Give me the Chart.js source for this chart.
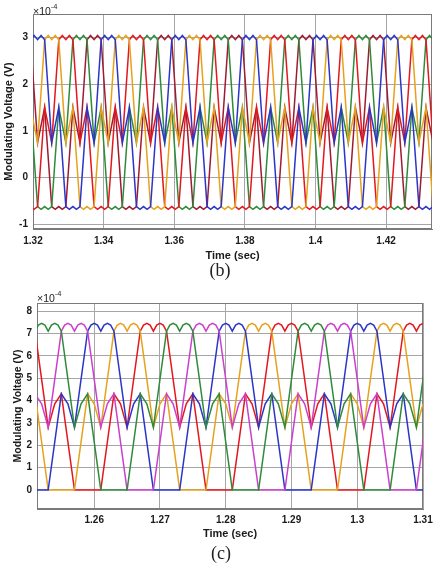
<!DOCTYPE html>
<html>
<head>
<meta charset="utf-8">
<script src="https://cdn.jsdelivr.net/npm/chart.js@4.4.1/dist/chart.umd.min.js"></script>
<style>
  body { margin: 0; background: #fff; width: 439px; height: 563px; position: relative; overflow: hidden; font-family: "Liberation Sans", Arial, sans-serif; }
  canvas { position: absolute; left: 0; }
  #chartB { top: 0; }
  #chartC { top: 282px; }
  .exp { position: absolute; font-size: 10.5px; color: #222; line-height: 12px; }
  .exp sup { font-size: 7.5px; position: relative; top: -1px; }
  .cap { position: absolute; width: 40px; text-align: center; font-family: "Liberation Serif", "Times New Roman", serif; font-size: 18px; color: #222; }
</style>
</head>
<body>
<canvas id="chartB" width="439" height="267"></canvas>
<canvas id="chartC" width="439" height="263"></canvas>
<div class="exp" style="left:33px;top:2px">×10<sup>-4</sup></div>
<div class="exp" style="left:37px;top:289px">×10<sup>-4</sup></div>
<div class="cap" style="left:200px;top:260px">(b)</div>
<div class="cap" style="left:201px;top:543px">(c)</div>
<script>
// ---- panel (b): modulating voltages, x10^-4 V ----
const bTicksX = [1.32, 1.34, 1.36, 1.38, 1.40, 1.42];
const bTickLabelsX = ["1.32", "1.34", "1.36", "1.38", "1.4", "1.42"];
const bTicksY = [-1, 0, 1, 2, 3];
const bTickLabelsY = ["-1", "0", "1", "2", "3"];

const bBlue = [
  [1.3093, -0.62], [1.3103, -0.68], [1.3113, -0.62], [1.3123, -0.68], [1.3133, -0.62], [1.3153, 1.5], [1.3173, 0.75],
  [1.3193, 2.95], [1.3203, 3.04], [1.3213, 2.95], [1.3223, 3.04], [1.3233, 2.95], [1.3253, 0.75], [1.3273, 1.5], [1.3293, -0.62], [1.3303, -0.68], [1.3313, -0.62], [1.3323, -0.68], [1.3333, -0.62], [1.3353, 1.5], [1.3373, 0.75],
  [1.3393, 2.95], [1.3403, 3.04], [1.3413, 2.95], [1.3423, 3.04], [1.3433, 2.95], [1.3453, 0.75], [1.3473, 1.5], [1.3493, -0.62], [1.3503, -0.68], [1.3513, -0.62], [1.3523, -0.68], [1.3533, -0.62], [1.3553, 1.5], [1.3573, 0.75],
  [1.3593, 2.95], [1.3603, 3.04], [1.3613, 2.95], [1.3623, 3.04], [1.3633, 2.95], [1.3653, 0.75], [1.3673, 1.5], [1.3693, -0.62], [1.3703, -0.68], [1.3713, -0.62], [1.3723, -0.68], [1.3733, -0.62], [1.3753, 1.5], [1.3773, 0.75],
  [1.3793, 2.95], [1.3803, 3.04], [1.3813, 2.95], [1.3823, 3.04], [1.3833, 2.95], [1.3853, 0.75], [1.3873, 1.5], [1.3893, -0.62], [1.3903, -0.68], [1.3913, -0.62], [1.3923, -0.68], [1.3933, -0.62], [1.3953, 1.5], [1.3973, 0.75],
  [1.3993, 2.95], [1.4003, 3.04], [1.4013, 2.95], [1.4023, 3.04], [1.4033, 2.95], [1.4053, 0.75], [1.4073, 1.5], [1.4093, -0.62], [1.4103, -0.68], [1.4113, -0.62], [1.4123, -0.68], [1.4133, -0.62], [1.4153, 1.5], [1.4173, 0.75],
  [1.4193, 2.95], [1.4203, 3.04], [1.4213, 2.95], [1.4223, 3.04], [1.4233, 2.95], [1.4253, 0.75], [1.4273, 1.5], [1.4293, -0.62], [1.4303, -0.68], [1.4313, -0.62], [1.4323, -0.68], [1.4333, -0.62], [1.4353, 1.5]
];
const bOrange = [
  [1.3133, -0.62], [1.3143, -0.68], [1.3153, -0.62], [1.3163, -0.68], [1.3173, -0.62], [1.3193, 1.5], [1.3213, 0.75],
  [1.3233, 2.95], [1.3243, 3.04], [1.3253, 2.95], [1.3263, 3.04], [1.3273, 2.95], [1.3293, 0.75], [1.3313, 1.5], [1.3333, -0.62], [1.3343, -0.68], [1.3353, -0.62], [1.3363, -0.68], [1.3373, -0.62], [1.3393, 1.5], [1.3413, 0.75],
  [1.3433, 2.95], [1.3443, 3.04], [1.3453, 2.95], [1.3463, 3.04], [1.3473, 2.95], [1.3493, 0.75], [1.3513, 1.5], [1.3533, -0.62], [1.3543, -0.68], [1.3553, -0.62], [1.3563, -0.68], [1.3573, -0.62], [1.3593, 1.5], [1.3613, 0.75],
  [1.3633, 2.95], [1.3643, 3.04], [1.3653, 2.95], [1.3663, 3.04], [1.3673, 2.95], [1.3693, 0.75], [1.3713, 1.5], [1.3733, -0.62], [1.3743, -0.68], [1.3753, -0.62], [1.3763, -0.68], [1.3773, -0.62], [1.3793, 1.5], [1.3813, 0.75],
  [1.3833, 2.95], [1.3843, 3.04], [1.3853, 2.95], [1.3863, 3.04], [1.3873, 2.95], [1.3893, 0.75], [1.3913, 1.5], [1.3933, -0.62], [1.3943, -0.68], [1.3953, -0.62], [1.3963, -0.68], [1.3973, -0.62], [1.3993, 1.5], [1.4013, 0.75],
  [1.4033, 2.95], [1.4043, 3.04], [1.4053, 2.95], [1.4063, 3.04], [1.4073, 2.95], [1.4093, 0.75], [1.4113, 1.5], [1.4133, -0.62], [1.4143, -0.68], [1.4153, -0.62], [1.4163, -0.68], [1.4173, -0.62], [1.4193, 1.5], [1.4213, 0.75],
  [1.4233, 2.95], [1.4243, 3.04], [1.4253, 2.95], [1.4263, 3.04], [1.4273, 2.95], [1.4293, 0.75], [1.4313, 1.5], [1.4333, -0.62], [1.4343, -0.68]
];
const bRed = [
  [1.3113, 2.95], [1.3133, 0.75], [1.3153, 1.5], [1.3173, -0.62], [1.3183, -0.68], [1.3193, -0.62], [1.3203, -0.68], [1.3213, -0.62], [1.3233, 1.5], [1.3253, 0.75],
  [1.3273, 2.95], [1.3283, 3.04], [1.3293, 2.95], [1.3303, 3.04], [1.3313, 2.95], [1.3333, 0.75], [1.3353, 1.5], [1.3373, -0.62], [1.3383, -0.68], [1.3393, -0.62], [1.3403, -0.68], [1.3413, -0.62], [1.3433, 1.5], [1.3453, 0.75],
  [1.3473, 2.95], [1.3483, 3.04], [1.3493, 2.95], [1.3503, 3.04], [1.3513, 2.95], [1.3533, 0.75], [1.3553, 1.5], [1.3573, -0.62], [1.3583, -0.68], [1.3593, -0.62], [1.3603, -0.68], [1.3613, -0.62], [1.3633, 1.5], [1.3653, 0.75],
  [1.3673, 2.95], [1.3683, 3.04], [1.3693, 2.95], [1.3703, 3.04], [1.3713, 2.95], [1.3733, 0.75], [1.3753, 1.5], [1.3773, -0.62], [1.3783, -0.68], [1.3793, -0.62], [1.3803, -0.68], [1.3813, -0.62], [1.3833, 1.5], [1.3853, 0.75],
  [1.3873, 2.95], [1.3883, 3.04], [1.3893, 2.95], [1.3903, 3.04], [1.3913, 2.95], [1.3933, 0.75], [1.3953, 1.5], [1.3973, -0.62], [1.3983, -0.68], [1.3993, -0.62], [1.4003, -0.68], [1.4013, -0.62], [1.4033, 1.5], [1.4053, 0.75],
  [1.4073, 2.95], [1.4083, 3.04], [1.4093, 2.95], [1.4103, 3.04], [1.4113, 2.95], [1.4133, 0.75], [1.4153, 1.5], [1.4173, -0.62], [1.4183, -0.68], [1.4193, -0.62], [1.4203, -0.68], [1.4213, -0.62], [1.4233, 1.5], [1.4253, 0.75],
  [1.4273, 2.95], [1.4283, 3.04], [1.4293, 2.95], [1.4303, 3.04], [1.4313, 2.95], [1.4333, 0.75]
];
const bGreen = [
  [1.3113, 2.95], [1.3123, 3.04], [1.3133, 2.95], [1.3143, 3.04], [1.3153, 2.95], [1.3173, 0.75], [1.3193, 1.5], [1.3213, -0.62], [1.3223, -0.68], [1.3233, -0.62], [1.3243, -0.68], [1.3253, -0.62], [1.3273, 1.5], [1.3293, 0.75],
  [1.3313, 2.95], [1.3323, 3.04], [1.3333, 2.95], [1.3343, 3.04], [1.3353, 2.95], [1.3373, 0.75], [1.3393, 1.5], [1.3413, -0.62], [1.3423, -0.68], [1.3433, -0.62], [1.3443, -0.68], [1.3453, -0.62], [1.3473, 1.5], [1.3493, 0.75],
  [1.3513, 2.95], [1.3523, 3.04], [1.3533, 2.95], [1.3543, 3.04], [1.3553, 2.95], [1.3573, 0.75], [1.3593, 1.5], [1.3613, -0.62], [1.3623, -0.68], [1.3633, -0.62], [1.3643, -0.68], [1.3653, -0.62], [1.3673, 1.5], [1.3693, 0.75],
  [1.3713, 2.95], [1.3723, 3.04], [1.3733, 2.95], [1.3743, 3.04], [1.3753, 2.95], [1.3773, 0.75], [1.3793, 1.5], [1.3813, -0.62], [1.3823, -0.68], [1.3833, -0.62], [1.3843, -0.68], [1.3853, -0.62], [1.3873, 1.5], [1.3893, 0.75],
  [1.3913, 2.95], [1.3923, 3.04], [1.3933, 2.95], [1.3943, 3.04], [1.3953, 2.95], [1.3973, 0.75], [1.3993, 1.5], [1.4013, -0.62], [1.4023, -0.68], [1.4033, -0.62], [1.4043, -0.68], [1.4053, -0.62], [1.4073, 1.5], [1.4093, 0.75],
  [1.4113, 2.95], [1.4123, 3.04], [1.4133, 2.95], [1.4143, 3.04], [1.4153, 2.95], [1.4173, 0.75], [1.4193, 1.5], [1.4213, -0.62], [1.4223, -0.68], [1.4233, -0.62], [1.4243, -0.68], [1.4253, -0.62], [1.4273, 1.5], [1.4293, 0.75],
  [1.4313, 2.95], [1.4323, 3.04], [1.4333, 2.95], [1.4343, 3.04]
];
const bMaroon = [
  [1.3093, -0.62], [1.3113, 1.5], [1.3133, 0.75],
  [1.3153, 2.95], [1.3163, 3.04], [1.3173, 2.95], [1.3183, 3.04], [1.3193, 2.95], [1.3213, 0.75], [1.3233, 1.5], [1.3253, -0.62], [1.3263, -0.68], [1.3273, -0.62], [1.3283, -0.68], [1.3293, -0.62], [1.3313, 1.5], [1.3333, 0.75],
  [1.3353, 2.95], [1.3363, 3.04], [1.3373, 2.95], [1.3383, 3.04], [1.3393, 2.95], [1.3413, 0.75], [1.3433, 1.5], [1.3453, -0.62], [1.3463, -0.68], [1.3473, -0.62], [1.3483, -0.68], [1.3493, -0.62], [1.3513, 1.5], [1.3533, 0.75],
  [1.3553, 2.95], [1.3563, 3.04], [1.3573, 2.95], [1.3583, 3.04], [1.3593, 2.95], [1.3613, 0.75], [1.3633, 1.5], [1.3653, -0.62], [1.3663, -0.68], [1.3673, -0.62], [1.3683, -0.68], [1.3693, -0.62], [1.3713, 1.5], [1.3733, 0.75],
  [1.3753, 2.95], [1.3763, 3.04], [1.3773, 2.95], [1.3783, 3.04], [1.3793, 2.95], [1.3813, 0.75], [1.3833, 1.5], [1.3853, -0.62], [1.3863, -0.68], [1.3873, -0.62], [1.3883, -0.68], [1.3893, -0.62], [1.3913, 1.5], [1.3933, 0.75],
  [1.3953, 2.95], [1.3963, 3.04], [1.3973, 2.95], [1.3983, 3.04], [1.3993, 2.95], [1.4013, 0.75], [1.4033, 1.5], [1.4053, -0.62], [1.4063, -0.68], [1.4073, -0.62], [1.4083, -0.68], [1.4093, -0.62], [1.4113, 1.5], [1.4133, 0.75],
  [1.4153, 2.95], [1.4163, 3.04], [1.4173, 2.95], [1.4183, 3.04], [1.4193, 2.95], [1.4213, 0.75], [1.4233, 1.5], [1.4253, -0.62], [1.4263, -0.68], [1.4273, -0.62], [1.4283, -0.68], [1.4293, -0.62], [1.4313, 1.5], [1.4333, 0.75],
  [1.4353, 2.95]
];

// ---- panel (c) ----
const cTicksX = [1.26, 1.27, 1.28, 1.29, 1.30, 1.31];
const cTickLabelsX = ["1.26", "1.27", "1.28", "1.29", "1.3", "1.31"];
const cTicksY = [0, 1, 2, 3, 4, 5, 6, 7, 8];
const cTickLabelsY = ["0", "1", "2", "3", "4", "5", "6", "7", "8"];

const cGreen = [
  [1.2450, 0], [1.2470, 4.3], [1.2480, 3.85], [1.2490, 2.8],
  [1.2510, 7.1], [1.2515, 7.37], [1.2520, 7.45], [1.2525, 7.37], [1.2530, 7.1], [1.2535, 7.37], [1.2540, 7.45], [1.2545, 7.37], [1.2550, 7.1], [1.2570, 2.8], [1.2580, 3.85], [1.2590, 4.3], [1.2610, 0], [1.2650, 0], [1.2670, 4.3], [1.2680, 3.85], [1.2690, 2.8],
  [1.2710, 7.1], [1.2715, 7.37], [1.2720, 7.45], [1.2725, 7.37], [1.2730, 7.1], [1.2735, 7.37], [1.2740, 7.45], [1.2745, 7.37], [1.2750, 7.1], [1.2770, 2.8], [1.2780, 3.85], [1.2790, 4.3], [1.2810, 0], [1.2850, 0], [1.2870, 4.3], [1.2880, 3.85], [1.2890, 2.8],
  [1.2910, 7.1], [1.2915, 7.37], [1.2920, 7.45], [1.2925, 7.37], [1.2930, 7.1], [1.2935, 7.37], [1.2940, 7.45], [1.2945, 7.37], [1.2950, 7.1], [1.2970, 2.8], [1.2980, 3.85], [1.2990, 4.3], [1.3010, 0], [1.3050, 0], [1.3070, 4.3], [1.3080, 3.85], [1.3090, 2.8],
  [1.3110, 7.1]
];
const cMagenta = [
  [1.2450, 0], [1.2490, 0], [1.2510, 4.3], [1.2520, 3.85], [1.2530, 2.8],
  [1.2550, 7.1], [1.2555, 7.37], [1.2560, 7.45], [1.2565, 7.37], [1.2570, 7.1], [1.2575, 7.37], [1.2580, 7.45], [1.2585, 7.37], [1.2590, 7.1], [1.2610, 2.8], [1.2620, 3.85], [1.2630, 4.3], [1.2650, 0], [1.2690, 0], [1.2710, 4.3], [1.2720, 3.85], [1.2730, 2.8],
  [1.2750, 7.1], [1.2755, 7.37], [1.2760, 7.45], [1.2765, 7.37], [1.2770, 7.1], [1.2775, 7.37], [1.2780, 7.45], [1.2785, 7.37], [1.2790, 7.1], [1.2810, 2.8], [1.2820, 3.85], [1.2830, 4.3], [1.2850, 0], [1.2890, 0], [1.2910, 4.3], [1.2920, 3.85], [1.2930, 2.8],
  [1.2950, 7.1], [1.2955, 7.37], [1.2960, 7.45], [1.2965, 7.37], [1.2970, 7.1], [1.2975, 7.37], [1.2980, 7.45], [1.2985, 7.37], [1.2990, 7.1], [1.3010, 2.8], [1.3020, 3.85], [1.3030, 4.3], [1.3050, 0], [1.3090, 0], [1.3110, 4.3]
];
const cBlue = [
  [1.2450, 2.8], [1.2460, 3.85], [1.2470, 4.3], [1.2490, 0], [1.2530, 0], [1.2550, 4.3], [1.2560, 3.85], [1.2570, 2.8],
  [1.2590, 7.1], [1.2595, 7.37], [1.2600, 7.45], [1.2605, 7.37], [1.2610, 7.1], [1.2615, 7.37], [1.2620, 7.45], [1.2625, 7.37], [1.2630, 7.1], [1.2650, 2.8], [1.2660, 3.85], [1.2670, 4.3], [1.2690, 0], [1.2730, 0], [1.2750, 4.3], [1.2760, 3.85], [1.2770, 2.8],
  [1.2790, 7.1], [1.2795, 7.37], [1.2800, 7.45], [1.2805, 7.37], [1.2810, 7.1], [1.2815, 7.37], [1.2820, 7.45], [1.2825, 7.37], [1.2830, 7.1], [1.2850, 2.8], [1.2860, 3.85], [1.2870, 4.3], [1.2890, 0], [1.2930, 0], [1.2950, 4.3], [1.2960, 3.85], [1.2970, 2.8],
  [1.2990, 7.1], [1.2995, 7.37], [1.3000, 7.45], [1.3005, 7.37], [1.3010, 7.1], [1.3015, 7.37], [1.3020, 7.45], [1.3025, 7.37], [1.3030, 7.1], [1.3050, 2.8], [1.3060, 3.85], [1.3070, 4.3], [1.3090, 0], [1.3130, 0]
];
const cOrange = [
  [1.2450, 7.1], [1.2455, 7.37], [1.2460, 7.45], [1.2465, 7.37], [1.2470, 7.1], [1.2490, 2.8], [1.2500, 3.85], [1.2510, 4.3], [1.2530, 0], [1.2570, 0], [1.2590, 4.3], [1.2600, 3.85], [1.2610, 2.8],
  [1.2630, 7.1], [1.2635, 7.37], [1.2640, 7.45], [1.2645, 7.37], [1.2650, 7.1], [1.2655, 7.37], [1.2660, 7.45], [1.2665, 7.37], [1.2670, 7.1], [1.2690, 2.8], [1.2700, 3.85], [1.2710, 4.3], [1.2730, 0], [1.2770, 0], [1.2790, 4.3], [1.2800, 3.85], [1.2810, 2.8],
  [1.2830, 7.1], [1.2835, 7.37], [1.2840, 7.45], [1.2845, 7.37], [1.2850, 7.1], [1.2855, 7.37], [1.2860, 7.45], [1.2865, 7.37], [1.2870, 7.1], [1.2890, 2.8], [1.2900, 3.85], [1.2910, 4.3], [1.2930, 0], [1.2970, 0], [1.2990, 4.3], [1.3000, 3.85], [1.3010, 2.8],
  [1.3030, 7.1], [1.3035, 7.37], [1.3040, 7.45], [1.3045, 7.37], [1.3050, 7.1], [1.3055, 7.37], [1.3060, 7.45], [1.3065, 7.37], [1.3070, 7.1], [1.3090, 2.8], [1.3100, 3.85], [1.3110, 4.3]
];
const cRed = [
  [1.2470, 7.1], [1.2475, 7.37], [1.2480, 7.45], [1.2485, 7.37], [1.2490, 7.1], [1.2495, 7.37], [1.2500, 7.45], [1.2505, 7.37], [1.2510, 7.1], [1.2530, 2.8], [1.2540, 3.85], [1.2550, 4.3], [1.2570, 0], [1.2610, 0], [1.2630, 4.3], [1.2640, 3.85], [1.2650, 2.8],
  [1.2670, 7.1], [1.2675, 7.37], [1.2680, 7.45], [1.2685, 7.37], [1.2690, 7.1], [1.2695, 7.37], [1.2700, 7.45], [1.2705, 7.37], [1.2710, 7.1], [1.2730, 2.8], [1.2740, 3.85], [1.2750, 4.3], [1.2770, 0], [1.2810, 0], [1.2830, 4.3], [1.2840, 3.85], [1.2850, 2.8],
  [1.2870, 7.1], [1.2875, 7.37], [1.2880, 7.45], [1.2885, 7.37], [1.2890, 7.1], [1.2895, 7.37], [1.2900, 7.45], [1.2905, 7.37], [1.2910, 7.1], [1.2930, 2.8], [1.2940, 3.85], [1.2950, 4.3], [1.2970, 0], [1.3010, 0], [1.3030, 4.3], [1.3040, 3.85], [1.3050, 2.8],
  [1.3070, 7.1], [1.3075, 7.37], [1.3080, 7.45], [1.3085, 7.37], [1.3090, 7.1], [1.3095, 7.37], [1.3100, 7.45], [1.3105, 7.37], [1.3110, 7.1]
];

const gridColor = "#a6a6a6";
const boxColor = "#7a7a7a";
const textColor = "#1a1a1a";

// draws the full frame round the plot, like the matlab axes box
const boxPlugin = {
  id: "box",
  beforeDatasetsDraw (chart) {
    const a = chart.chartArea;
    const ctx = chart.ctx;
    ctx.save();
    ctx.strokeStyle = boxColor;
    ctx.lineWidth = 1;
    ctx.strokeRect(a.left + 0.5, a.top + 0.5, a.right - a.left - 1, a.bottom - a.top - 1);
    ctx.restore();
  }
};

function makeChart (canvasId, seriesList, colors, o) {
  return new Chart(document.getElementById(canvasId), {
    type: "line",
    data: {
      datasets: seriesList.map((s, i) => ({
        data: s,
        borderColor: colors[i],
        borderWidth: 1.5,
        pointRadius: 0,
        tension: 0,
        fill: false,
        clip: 0
      }))
    },
    options: {
      responsive: false,
      animation: false,
      devicePixelRatio: 1,
      layout: { padding: o.padding },
      plugins: { legend: { display: false }, tooltip: { enabled: false } },
      scales: {
        x: {
          type: "linear",
          min: o.xMin,
          max: o.xMax,
          afterBuildTicks: (s) => { s.ticks = o.ticksX.map((v) => ({ value: v })); },
          afterFit: (s) => { s.height = o.xHeight; },
          ticks: {
            callback: (v, i) => o.labelsX[i],
            font: { family: "Liberation Sans", size: 10, weight: "bold" },
            color: textColor,
            padding: o.xPad,
            maxRotation: 0,
            autoSkip: false
          },
          grid: { color: gridColor, drawTicks: false },
          border: { color: boxColor },
          title: {
            display: true,
            text: "Time (sec)",
            font: { family: "Liberation Sans", size: 11, weight: "bold" },
            color: textColor,
            padding: { top: 0, bottom: 4 }
          }
        },
        y: {
          type: "linear",
          min: o.yMin,
          max: o.yMax,
          afterBuildTicks: (s) => { s.ticks = o.ticksY.map((v) => ({ value: v })); },
          afterFit: (s) => { s.width = o.yWidth; },
          ticks: {
            callback: (v, i) => o.labelsY[i],
            font: { family: "Liberation Sans", size: 10, weight: "bold" },
            color: textColor,
            padding: 5
          },
          grid: { color: gridColor, drawTicks: false },
          border: { color: boxColor },
          title: {
            display: true,
            text: "Modulating Voltage (V)",
            font: { family: "Liberation Sans", size: o.yTitleSize, weight: "bold" },
            color: textColor,
            padding: { top: o.yTitlePad, bottom: 0 }
          }
        }
      }
    },
    plugins: [boxPlugin]
  });
}

makeChart("chartB",
  [bBlue, bOrange, bRed, bGreen, bMaroon],
  ["#2b35c8", "#e6a21c", "#e3171f", "#2e8b3a", "#9e1b32"],
  {
    padding: { top: 14, right: 7, left: 0, bottom: 0 },
    xMin: 1.32, xMax: 1.433, yMin: -1.1, yMax: 3.5,
    ticksX: bTicksX, labelsX: bTickLabelsX, ticksY: bTicksY, labelsY: bTickLabelsY,
    xHeight: 38, yWidth: 33, xPad: 6, yTitleSize: 11, yTitlePad: 2
  });

makeChart("chartC",
  [cGreen, cMagenta, cBlue, cOrange, cRed],
  ["#2e8b3a", "#cc3fcc", "#2b35c8", "#e6a21c", "#e3171f"],
  {
    padding: { top: 21, right: 16, left: 0, bottom: 0 },
    xMin: 1.2513, xMax: 1.31, yMin: -0.85, yMax: 8.36,
    ticksX: cTicksX, labelsX: cTickLabelsX, ticksY: cTicksY, labelsY: cTickLabelsY,
    xHeight: 36, yWidth: 37, xPad: 5, yTitleSize: 10.5, yTitlePad: 12
  });
</script>
</body>
</html>
